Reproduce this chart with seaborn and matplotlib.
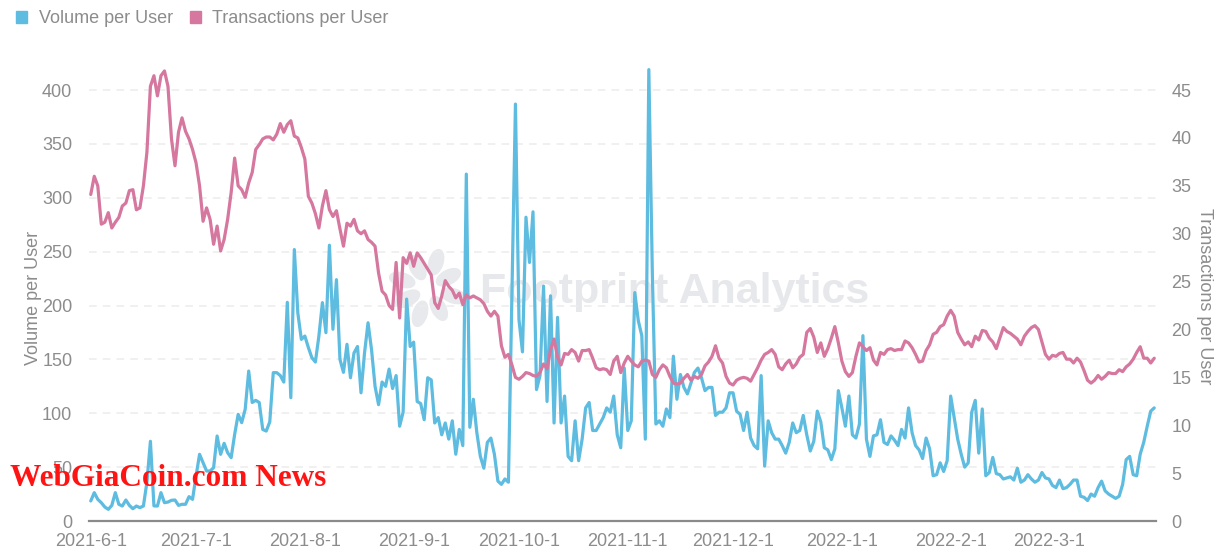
import numpy as np
import pandas as pd
import matplotlib
matplotlib.use("Agg")
import matplotlib.pyplot as plt
from matplotlib.patches import Rectangle, Ellipse
from matplotlib.transforms import IdentityTransform
import seaborn as sns


# daily values, 2021-6-1 .. 2022-3-31
volume_per_user = [
    18.6, 26.3, 20.1, 17.0, 13.0, 10.8, 14.5, 26.3, 15.5, 13.9,
    19.5, 14.5, 11.4, 13.9, 12.4, 13.9, 36, 74, 14, 13.9,
    26.3, 17.0, 17.6, 19.2, 19.5, 14.5, 15.5, 15.5, 22.6, 20.1,
    41.8, 61.9, 54.1, 46.4, 46.4, 49.5, 78.9, 61.9, 72.1, 63.4,
    58.8, 80.4, 99.0, 91.3, 103.7, 139.2, 110, 112, 110, 85,
    83.5, 92, 137.7, 137.7, 135, 129, 203, 114.5, 252, 193,
    168.6, 171.7, 161, 151.6, 147.6, 171.7, 202.7, 174.8, 256, 178,
    224, 150, 138, 164, 133, 156, 162, 119, 156, 184,
    159, 125, 108, 129, 125, 141, 123, 135, 88, 101,
    206, 162, 166, 111, 109, 94, 133, 131, 91, 96,
    80, 91, 76, 93, 62, 85, 70, 322, 87, 113,
    82, 60, 49, 73, 77, 62, 37, 34, 39, 36,
    212, 387, 187, 157, 282, 240, 287, 122, 135, 218,
    111, 209, 91, 189, 91, 116, 60, 56, 93, 56,
    76, 105, 110, 84, 84, 90, 96, 105, 101, 116,
    80, 68, 142, 84, 93, 212, 186, 172, 76, 419,
    230, 90, 93, 88, 104, 96, 153, 113, 136, 124,
    118, 128, 138, 142, 133, 121, 124, 124, 98, 101,
    101, 105, 119, 119, 102, 99, 84, 101, 77, 70,
    67, 135, 51, 93, 82, 76, 76, 70, 63, 73,
    91, 82, 84, 98, 80, 65, 74, 102, 92, 68,
    66, 57, 67, 121, 105, 88, 116, 80, 77, 90,
    172, 76, 60, 79, 80, 94, 73, 71, 79, 75,
    70, 85, 77, 105, 82, 70, 66, 58, 77, 67,
    42, 43, 54, 46, 56, 116, 96, 76, 62, 50,
    54, 101, 112, 63, 104, 42, 45, 59, 44, 43,
    39, 40, 41, 38, 49, 36, 38, 43, 39, 36,
    38, 45, 40, 39, 33, 31, 38, 30, 31, 34,
    38, 38, 23, 22, 19, 25, 23, 31, 37, 28,
    25, 23, 21, 23, 34, 57, 60, 43, 42, 62,
    73, 88, 102, 105,
]

transactions_per_user = [
    34.1, 36.0, 35.0, 31.0, 31.2, 32.2, 30.6, 31.2, 31.7, 32.9,
    33.2, 34.5, 34.6, 32.5, 32.7, 35.0, 38.5, 45.4, 46.5, 44.4,
    46.5, 47.0, 45.4, 39.9, 37.1, 40.6, 42.1, 40.7, 39.9, 38.8,
    37.4, 35.0, 31.3, 32.7, 31.5, 28.9, 30.8, 28.2, 29.4, 31.5,
    34.3, 37.9, 35.0, 34.6, 33.8, 35.3, 36.4, 38.8, 39.3, 39.9,
    40.1, 40.1, 39.8, 40.4, 41.5, 40.6, 41.4, 41.8, 40.2, 40.0,
    39.0, 37.8, 33.9, 33.2, 32.1, 30.6, 32.9, 34.5, 32.5, 31.8,
    32.4, 30.5, 28.7, 31.1, 30.8, 31.5, 30.3, 30.0, 30.3, 29.4,
    29.1, 28.7, 25.9, 24.0, 23.6, 22.5, 22.1, 27.0, 21.2, 27.5,
    26.9, 28.0, 26.6, 28.0, 27.5, 26.9, 26.3, 25.7, 22.8, 22.2,
    23.5, 25.1, 24.5, 24.1, 23.3, 23.8, 22.6, 23.6, 23.3, 23.5,
    23.3, 23.1, 22.7, 21.9, 21.4, 21.9, 21.4, 18.3, 17.1, 17.4,
    16.3, 15.0, 14.8, 15.1, 15.5, 15.4, 15.2, 15.1, 15.5, 16.4,
    15.9, 17.9, 19.0, 17.1, 16.3, 17.5, 17.4, 17.9, 17.6, 16.7,
    17.8, 17.8, 17.9, 17.0, 16.0, 15.8, 15.9, 15.8, 15.3, 16.7,
    17.2, 15.5, 16.5, 17.2, 16.7, 16.3, 16.1, 16.7, 16.8, 16.7,
    15.3, 15.0, 15.8, 16.3, 16.0, 15.1, 14.4, 14.3, 14.4, 14.9,
    15.3, 14.7, 15.1, 14.9, 15.3, 16.2, 16.6, 17.2, 18.3, 17.0,
    16.5, 15.1, 14.4, 14.2, 14.7, 14.9, 15.0, 14.9, 14.6, 15.3,
    16.0, 16.8, 17.4, 17.6, 17.9, 17.4, 16.1, 15.8, 16.4, 16.8,
    16.0, 16.4, 17.1, 17.4, 19.7, 20.1, 19.2, 17.6, 18.6, 17.2,
    18.0, 19.1, 20.3, 18.6, 16.7, 15.6, 15.1, 15.5, 17.2, 18.6,
    18.2, 17.8, 18.1, 16.8, 16.3, 17.6, 17.4, 17.9, 18.0, 17.8,
    17.9, 17.9, 18.8, 18.6, 18.1, 17.4, 16.6, 16.7, 17.8, 18.4,
    19.5, 19.7, 20.3, 20.5, 21.4, 22.0, 21.4, 19.7, 19.0, 18.4,
    18.7, 18.2, 19.3, 18.9, 19.9, 19.8, 19.1, 18.7, 18.0, 19.1,
    20.2, 19.8, 19.6, 19.3, 19.0, 18.4, 19.3, 19.8, 20.2, 20.4,
    20.0, 18.7, 17.4, 16.9, 17.3, 17.2, 17.5, 17.6, 16.9, 16.9,
    16.5, 17.0, 16.6, 15.7, 14.7, 14.4, 14.7, 15.2, 14.8, 15.1,
    15.5, 15.4, 15.4, 15.8, 15.6, 16.1, 16.4, 16.9, 17.6, 18.2,
    17.0, 17.0, 16.5, 17.0,
]

month_ticks = ["2021-6-1", "2021-7-1", "2021-8-1", "2021-9-1", "2021-10-1",
               "2021-11-1", "2021-12-1", "2022-1-1", "2022-2-1", "2022-3-1"]
left_ticks = [0, 50, 100, 150, 200, 250, 300, 350, 400]
right_ticks = [0, 5, 10, 15, 20, 25, 30, 35, 40, 45]

BLUE = "#5dbcdf"
PINK = "#d5779f"
GREY = "#8c8c8c"

dates = pd.date_range("2021-06-01", periods=len(volume_per_user), freq="D")
df = pd.DataFrame({
    "date": dates,
    "volume": volume_per_user,
    "tx": transactions_per_user,
})

sns.set_theme(style="white")
plt.rcParams["font.family"] = ["Liberation Sans", "DejaVu Sans"]

W, H = 1230, 560
fig = plt.figure(figsize=(W / 100, H / 100), dpi=100)
ax = fig.add_axes([89 / W, 39 / H, (1156 - 89) / W, 474 / H])
ax2 = ax.twinx()
ax.patch.set_alpha(0)

# watermark (logo + name), sits under both lines
ax.text(480 / W, 1 - 292 / H, "Footprint Analytics", transform=fig.transFigure,
        fontsize=31, fontweight="bold", color="#e6e8eb", ha="left", va="center",
        zorder=0)
cx, cy = 428, 288
for k in range(8):
    ang = np.pi / 4 * k + 0.3
    r = 27 if k % 2 == 0 else 23
    ex = cx + r * np.cos(ang)
    ey = cy + r * np.sin(ang)
    ax.add_patch(Ellipse((ex, H - ey), 14, 26, angle=np.degrees(-ang) + 90,
                         color="#e8e9ec", transform=IdentityTransform(),
                         zorder=0, clip_on=False))

sns.lineplot(data=df, x="date", y="volume", ax=ax, color=BLUE, lw=2.3, zorder=3)
sns.lineplot(data=df, x="date", y="tx", ax=ax2, color=PINK, lw=2.3, zorder=3)

ax.set_ylim(0, 440)
ax2.set_ylim(0, 49.5)
ax.set_yticks(left_ticks)
ax2.set_yticks(right_ticks)
ax.set_xlim(dates[0] - pd.Timedelta(hours=12), dates[-1] + pd.Timedelta(hours=12))

tick_dates = [pd.Timestamp(d) for d in month_ticks]
ax.set_xticks(tick_dates)
ax.set_xticklabels(month_ticks)

for a in (ax, ax2):
    a.set_xlabel("")
    a.set_ylabel("")
    for s in a.spines.values():
        s.set_visible(False)
    a.tick_params(length=0, labelsize=13, labelcolor=GREY)
    a.grid(False)
ax2.patch.set_alpha(0)
ax.spines["bottom"].set_visible(True)
ax.spines["bottom"].set_color("#8a8a8a")
ax.spines["bottom"].set_linewidth(1.6)
ax.tick_params(axis="y", pad=12)
ax.tick_params(axis="x", pad=9)
ax2.tick_params(axis="y", pad=11)

for t in left_ticks[1:]:
    ax.axhline(t, color="#ececec", lw=1.1, ls=(0, (5, 4)), zorder=1)

fig.text(33 / W, 1 - 298 / H, "Volume per User", rotation=90,
         ha="center", va="center", fontsize=13, color=GREY)
fig.text(1205 / W, 1 - 296 / H, "Transactions per User", rotation=270,
         ha="center", va="center", fontsize=13, color=GREY)

# legend
handles = [Rectangle((0, 0), 1, 1, color=BLUE), Rectangle((0, 0), 1, 1, color=PINK)]
fig.legend(handles, ["Volume per User", "Transactions per User"], loc="upper left",
           bbox_to_anchor=(0 / W, 1 + 6 / H), ncol=2, frameon=False, fontsize=13,
           labelcolor=GREY, handlelength=0.62, handleheight=0.62,
           handletextpad=0.65, columnspacing=0.9)

fig.text(10 / W, 1 - 478 / H, "WebGiaCoin.com News", fontsize=22.5, fontweight="bold",
         family=["Liberation Serif", "DejaVu Serif"], color="#ff1414",
         ha="left", va="center", zorder=10)

fig.savefig("out.png", dpi=100)
